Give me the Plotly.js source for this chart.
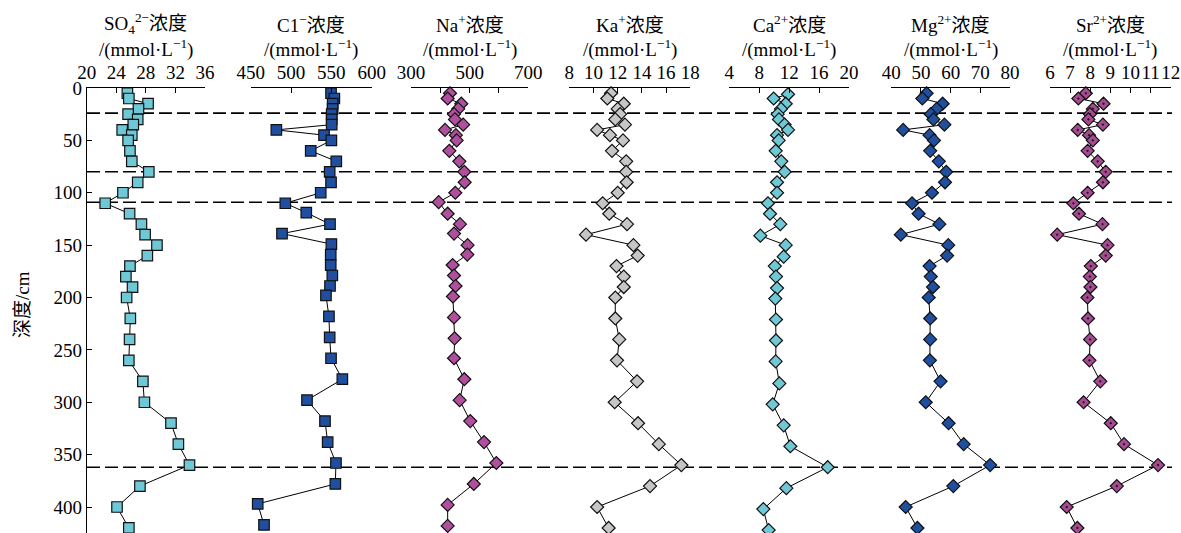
<!DOCTYPE html>
<html><head><meta charset="utf-8">
<script src="https://cdn.plot.ly/plotly-3.0.1.min.js"></script>
<style>html,body{margin:0;padding:0;background:#fff}#chart{width:1181px;height:533px}</style>
</head><body><div id="chart"></div>
<script>
// depths (cm)
const depth   = [5,10,15,20,25,30,35,40,45,50,60,70,80,90,100,110,120,130,140,150,160,170,180,190,200,220,240,260,280,300,320,340,360,380,400,420];
const depthCl = [5,10,15,20,25,30,35,40,45,50,60,70,80,90,100,110,119,130,139,149,159,169,179,189,198,218,238,258,278,298,318,338,358,378,397,417];
const depthNa = [5,10,15,20,25,30,35,40,45,50,60,70,80,90,100,109,120,130,139,150,159,169,179,189,199,219,239,258,278,298,318,338,358,378,398,418];
const depthCa = [6,10,15,20,25,30,35,40,45,50,60,70,80,90,100,110,120,130,141,150,161,170,180,191,201,221,241,261,282,302,322,342,362,382,402,422];

const so4 = [25.5,25.7,28.3,27.0,25.6,26.9,26.3,24.8,26.1,25.6,25.85,26.1,28.4,26.9,24.9,22.5,25.8,27.4,27.9,29.5,28.2,25.85,25.3,26.2,25.4,25.9,25.8,25.7,27.6,27.8,31.4,32.4,33.9,27.2,24.1,25.7];
const cl  = [549.6,553.7,551.6,551.6,550.4,550.4,550.4,481.8,540.9,550,524.4,556.1,547.9,549.6,536.8,492.9,518.9,548.3,488.8,550,549.2,549.2,551.2,548.3,543.3,547,547.9,549.6,563.6,519.8,542.1,545.4,555.7,554.9,458.7,466.5];
const na  = [433,425,471.5,461,446.6,450,478,416,453,455.8,430.7,464.8,481.8,483,451,394.4,425,467,446.6,493,492,442,446.6,452,443,446.6,448.7,446.6,481.8,466,502,549,591,514,425,425];
const ka  = [11.45,11.14,12.5,12.0,12.2,11.8,12.6,10.3,11.36,12.44,11.53,12.7,12.7,12.74,12.0,10.76,11.3,12.77,9.38,13.3,13.65,11.9,12.5,12.5,11.8,11.8,12.13,11.94,13.6,11.75,13.68,15.4,17.26,14.67,10.3,11.25];
const ca  = [11.85,9.93,11.54,10.91,10.47,10.64,11.4,11.85,10.38,10.6,10.2,10.95,11.4,10.38,10.38,9.17,9.44,10.82,8.15,11.54,11.27,10.08,10.24,10.38,10.15,10.24,10.24,10.2,10.69,9.8,11.27,12.16,17.15,11.63,8.55,9.26];
const mg  = [51.9,50.45,57.3,55.3,53.3,54.2,57.9,44.0,52.9,54.4,53.1,56.0,58.5,58.1,53.7,47.0,49.2,56.2,43.2,59.2,58.8,52.9,53.3,54.05,52.6,53.1,53.1,53.0,56.6,51.6,59.3,64.4,73.3,60.9,44.85,48.8];
const sr  = [7.78,7.41,8.66,8.13,7.99,7.91,8.63,7.38,7.94,8.13,7.87,8.37,8.77,8.63,7.87,7.16,7.44,8.61,6.36,8.86,8.77,8.03,7.98,8.01,7.86,7.89,7.99,7.96,8.5,7.67,9.02,9.68,11.37,9.32,6.83,7.36];

const titles1 = ['SO<sub>4</sub><sup>2−</sup>浓度','C1<sup>−</sup>浓度','Na<sup>+</sup>浓度','Ka<sup>+</sup>浓度','Ca<sup>2+</sup>浓度','Mg<sup>2+</sup>浓度','Sr<sup>2+</sup>浓度'];
const unitLabel = '/(mmol·L<sup>−1</sup>)';

const tickVals = [
  [20,24,28,32,36],
  [450,500,550,600],
  [300,400,500,600,700],
  [8,10,12,14,16,18],
  [4,8,12,16,20],
  [40,50,60,70,80],
  [6,7,8,9,10,11,12]
];
const tickText = [
  ['20','24','28','32','36'],
  ['450','500','550','600'],
  ['300','','500','','700'],
  ['8','10','12','14','16','18'],
  ['4','8','12','16','20'],
  ['40','50','60','70','80'],
  ['6','7','8','9','10','11','12']
];
const depthTicks = [0,50,100,150,200,250,300,350,400];
const boundaryDepths = [24,80,109,362];

// layout geometry
const W = 1181, H = 533;
const domPx = [[86.7,205],[250.7,371.7],[411,528.3],[569.3,690.3],[729.3,849],[891.3,1010],[1050,1170.7]];
const ranges = [[20,36],[450,600],[300,700],[8,18],[4,20],[40,80],[6,12]];

const series = [
  {x:so4, y:depth,   sym:'square',      size:10.5, color:'#6ec8d6'},
  {x:cl,  y:depthCl, sym:'square',      size:10.5, color:'#1f4f9e'},
  {x:na,  y:depthNa, sym:'diamond',     size:10,   color:'#b04f9e'},
  {x:ka,  y:depth,   sym:'diamond',     size:10,   color:'#c6c6c6'},
  {x:ca,  y:depthCa, sym:'diamond',     size:10,   color:'#6ec8d6'},
  {x:mg,  y:depth,   sym:'diamond',     size:10,   color:'#1f4f9e'},
  {x:sr,  y:depth,   sym:'diamond-dot', size:10,   color:'#a64a92'}
];

const FONT = '"Liberation Serif", "Times New Roman", "Noto Sans CJK SC", serif';
const TF = 19;
const traces = series.map((s,i)=>({
  type:'scatter', mode:'lines+markers',
  x:s.x, y:s.y,
  xaxis: i===0?'x':'x'+(i+1), yaxis:'y',
  line:{color:'#000', width:1},
  marker:{symbol:s.sym, size:s.size, color:s.color, line:{color:'#111', width:1.2}},
  cliponaxis:false,
  hoverinfo:'x+y', showlegend:false
}));

const layout = {
  width:W, height:H,
  margin:{l:0,r:0,t:88,b:0,pad:0},
  paper_bgcolor:'#fff', plot_bgcolor:'#fff',
  font:{family:FONT, size:TF, color:'#000'},
  showlegend:false,
  yaxis:{
    domain:[0,1], range:[424.8,0], anchor:'x',
    tickmode:'array', tickvals:depthTicks,
    ticks:'inside', ticklen:5, tickcolor:'#000',
    showline:true, linecolor:'#000', linewidth:1,
    showgrid:false, zeroline:false,
    tickfont:{family:FONT, size:TF, color:'#000'}
  },
  shapes: boundaryDepths.map(d=>({
    type:'line', xref:'paper', yref:'y',
    x0:87/W, x1:1172/W, y0:d, y1:d,
    line:{color:'#000', width:1.6, dash:'13px,5px'},
    layer:'below'
  })),
  annotations:[]
};

domPx.forEach((d,i)=>{
  const key = i===0?'xaxis':'xaxis'+(i+1);
  layout[key] = {
    domain:[d[0]/W, d[1]/W], range:ranges[i], anchor:'y', side:'top',
    tickmode:'array', tickvals:tickVals[i], ticktext:tickText[i], tickangle:0,
    ticks:'inside', ticklen:5, tickcolor:'#000',
    showline:true, linecolor:'#000', linewidth:1,
    showgrid:false, zeroline:false,
    tickfont:{family:FONT, size:TF, color:'#000'}
  };
  const cx = (d[0]+d[1])/2/W;
  layout.annotations.push({xref:'paper', yref:'paper', x:cx, y:1+(88-24)/445, xanchor:'center', yanchor:'middle', showarrow:false, text:titles1[i], font:{family:FONT,size:19,color:'#000'}});
  layout.annotations.push({xref:'paper', yref:'paper', x:cx, y:1+(88-48)/445, xanchor:'center', yanchor:'middle', showarrow:false, text:unitLabel, font:{family:FONT,size:19,color:'#000'}});
});

layout.annotations.push({xref:'paper', yref:'paper', x:22/W, y:(533-305)/445, xanchor:'center', yanchor:'middle', textangle:-90, showarrow:false, text:'深度/cm', font:{family:FONT,size:19,color:'#000'}});

Plotly.newPlot('chart', traces, layout, {displayModeBar:false, staticPlot:true});
</script>
</body></html>
